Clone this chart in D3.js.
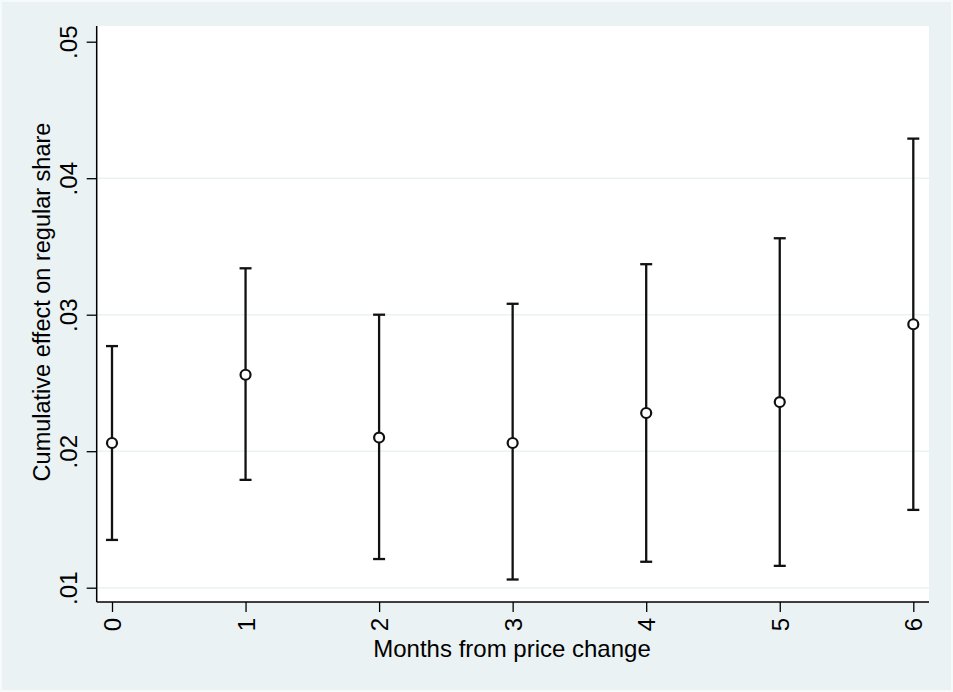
<!DOCTYPE html>
<html>
<head>
<meta charset="utf-8">
<script src="https://cdn.jsdelivr.net/npm/d3@7"></script>
<style>
  body { margin: 0; background: #fff; }
  svg text { font-family: "Liberation Sans", Arial, sans-serif; fill: #000; }
</style>
</head>
<body>
<svg id="chart" width="953" height="692"></svg>
<script>
// months after the price change
var months = [0, 1, 2, 3, 4, 5, 6];
// point estimates and 95% interval ends
var estimate = [0.0206, 0.0256, 0.0210, 0.0206, 0.0228, 0.0236, 0.0293];
var lower    = [0.0135, 0.0179, 0.0121, 0.0106, 0.0119, 0.0116, 0.0157];
var upper    = [0.0277, 0.0334, 0.0300, 0.0308, 0.0337, 0.0356, 0.0429];
var yTicks = [0.01, 0.02, 0.03, 0.04, 0.05];
var yGrid  = [0.01, 0.02, 0.03, 0.04];

var W = 953, H = 692;
var plot = { left: 96.7, right: 929, top: 26, bottom: 602 };

var svg = d3.select('#chart');

// graph region
svg.append('rect')
    .attr('x', 1).attr('y', 1)
    .attr('width', W - 2).attr('height', H - 2)
    .attr('fill', '#EAF2F3')
    .attr('stroke', '#F6FAFA')
    .attr('stroke-width', 2);

// plot region
svg.append('rect')
    .attr('x', plot.left).attr('y', plot.top)
    .attr('width', plot.right - plot.left)
    .attr('height', plot.bottom - plot.top)
    .attr('fill', '#fff');

var x = d3.scaleLinear().domain([0, 6]).range([112, 913.3]);
var y = d3.scaleLinear().domain([0.01, 0.05]).range([587.7, 41.7]);

// gridlines
svg.append('g').selectAll('line')
    .data(yGrid).enter()
    .append('line')
    .attr('x1', plot.left).attr('x2', plot.right)
    .attr('y1', function(d) { return y(d); })
    .attr('y2', function(d) { return y(d); })
    .attr('stroke', '#EAF2F3')
    .attr('stroke-width', 1.5);

var fmt = function(d) { return d3.format('.2f')(d).replace(/^0/, ''); };

// y axis
var gy = svg.append('g')
    .attr('transform', 'translate(' + plot.left + ',0)')
    .call(d3.axisLeft(y).tickValues(yTicks).tickFormat(fmt).tickSize(10));
gy.select('.domain').remove();
gy.selectAll('.tick line').attr('stroke', '#000').attr('stroke-width', 1.3);
gy.selectAll('.tick text')
    .attr('x', 0).attr('y', 0).attr('dy', 0)
    .attr('transform', 'translate(-20,0) rotate(-90)')
    .attr('text-anchor', 'middle')
    .style('font-size', '24px');

// x axis
var gx = svg.append('g')
    .attr('transform', 'translate(0,' + plot.bottom + ')')
    .call(d3.axisBottom(x).tickValues(months).tickFormat(d3.format('d')).tickSize(10));
gx.select('.domain').remove();
gx.selectAll('.tick line').attr('stroke', '#000').attr('stroke-width', 1.3);
gx.selectAll('.tick text')
    .attr('x', 0).attr('y', 0).attr('dy', '0.36em')
    .attr('transform', 'translate(0,16) rotate(-90)')
    .attr('text-anchor', 'end')
    .style('font-size', '24px');

// axis lines
svg.append('line')
    .attr('x1', plot.left).attr('x2', plot.left)
    .attr('y1', plot.top).attr('y2', plot.bottom)
    .attr('stroke', '#000').attr('stroke-width', 1.5);
svg.append('line')
    .attr('x1', plot.left).attr('x2', plot.right)
    .attr('y1', plot.bottom).attr('y2', plot.bottom)
    .attr('stroke', '#000').attr('stroke-width', 1.5);

// error bars
var bars = svg.append('g').selectAll('g')
    .data(months).enter()
    .append('g');
bars.append('line')
    .attr('x1', function(d) { return x(d); })
    .attr('x2', function(d) { return x(d); })
    .attr('y1', function(d, i) { return y(upper[i]); })
    .attr('y2', function(d, i) { return y(lower[i]); })
    .attr('stroke', '#111').attr('stroke-width', 2.3);
bars.append('line')
    .attr('x1', function(d) { return x(d) - 6; })
    .attr('x2', function(d) { return x(d) + 6; })
    .attr('y1', function(d, i) { return y(upper[i]); })
    .attr('y2', function(d, i) { return y(upper[i]); })
    .attr('stroke', '#111').attr('stroke-width', 2.3);
bars.append('line')
    .attr('x1', function(d) { return x(d) - 6; })
    .attr('x2', function(d) { return x(d) + 6; })
    .attr('y1', function(d, i) { return y(lower[i]); })
    .attr('y2', function(d, i) { return y(lower[i]); })
    .attr('stroke', '#111').attr('stroke-width', 2.3);

// point estimates
svg.append('g').selectAll('circle')
    .data(months).enter()
    .append('circle')
    .attr('cx', function(d) { return x(d); })
    .attr('cy', function(d, i) { return y(estimate[i]); })
    .attr('r', 5)
    .attr('fill', '#fff')
    .attr('stroke', '#111')
    .attr('stroke-width', 2.2);

// axis titles
svg.append('text')
    .attr('x', 512).attr('y', 657)
    .attr('text-anchor', 'middle')
    .style('font-size', '24px')
    .text('Months from price change');
svg.append('text')
    .attr('transform', 'translate(50,302) rotate(-90)')
    .attr('text-anchor', 'middle')
    .style('font-size', '23.5px')
    .text('Cumulative effect on regular share');
</script>
</body>
</html>
